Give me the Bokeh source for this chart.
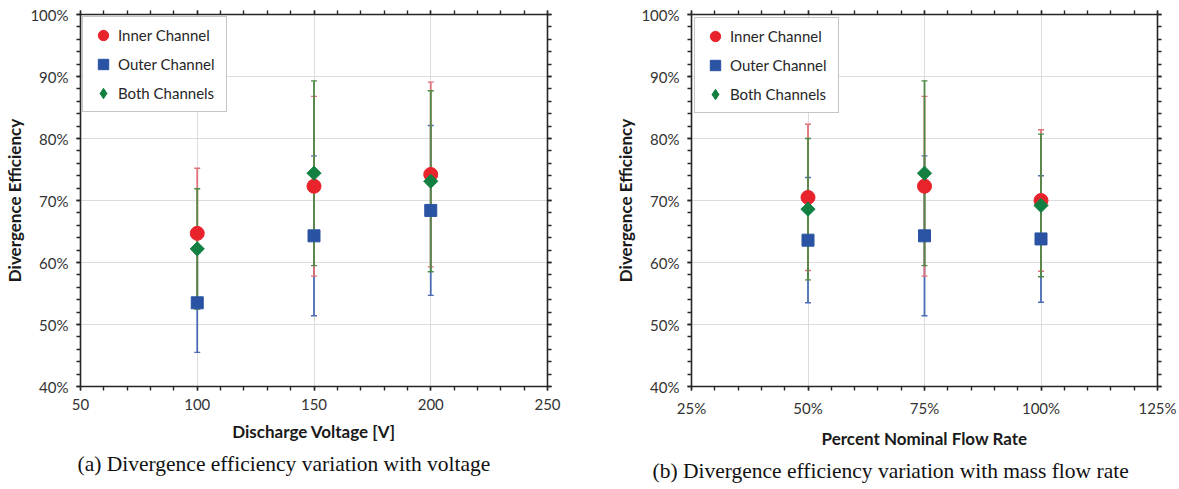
import numpy as np
from bokeh.plotting import figure
from bokeh.layouts import row
from bokeh.models import (ColumnDataSource, Whisker, TeeHead, Range1d, LinearAxis,
                          SingleIntervalTicker, PrintfTickFormatter, Legend, LegendItem, Title)
from bokeh.embed import file_html
from bokeh.resources import INLINE

# Panel (a): discharge voltage sweep [V]
voltage = [100, 150, 200]
inner_v = [64.7, 72.3, 74.2]
inner_v_err = [10.5, 14.5, 14.9]
outer_v = [53.5, 64.3, 68.4]
outer_v_err = [8.0, 12.9, 13.7]
both_v = [62.2, 74.4, 73.1]
both_v_err = [9.7, 14.9, 14.6]

# Panel (b): anode flow rate, percent of nominal
flow = [50, 75, 100]
inner_f = [70.5, 72.3, 70.0]
inner_f_err = [11.8, 14.5, 11.4]
outer_f = [63.6, 64.3, 63.8]
outer_f_err = [10.1, 12.9, 10.2]
both_f = [68.6, 74.4, 69.2]
both_f_err = [11.4, 14.9, 11.5]

series_names = ["Inner Channel", "Outer Channel", "Both Channels"]
y_ticks_pct = (40, 100, 10)

FONT = "Lato"
MARK_COLORS = ["#e8232b", "#2b53a3", "#118040"]
BAR_COLORS = ["#e0707a", "#4b6cb4", "#4f8a45"]
AXIS_COLOR = "#262626"


def style_axis(ax, labels=True):
    ax.axis_line_color = AXIS_COLOR
    ax.axis_line_width = 1.6
    ax.major_tick_line_color = AXIS_COLOR
    ax.minor_tick_line_color = AXIS_COLOR
    ax.major_tick_line_width = 1.4
    ax.minor_tick_line_width = 1.4
    ax.major_tick_in = 0
    ax.major_tick_out = 4
    ax.minor_tick_in = 0
    ax.minor_tick_out = 4
    if labels:
        ax.major_label_text_font = FONT
        ax.major_label_text_font_size = "15px"
        ax.major_label_text_color = "#333333"
        ax.axis_label_text_font = FONT
        ax.axis_label_text_font_size = "17px"
        ax.axis_label_text_font_style = "bold"
        ax.axis_label_text_color = "#1a1a1a"
    else:
        # tick marks only on the mirrored frame edges
        ax.major_label_text_font_size = "1px"
        ax.major_label_text_color = None
        ax.major_label_standoff = 0


def make_panel(x, values, errors, x_start, x_end, x_step, x_fmt, xlabel, caption,
               width, border_left, border_right, cap_offset, legend_margin):
    p = figure(width=width, height=489, title=None,
               x_range=Range1d(x_start, x_end), y_range=Range1d(*y_ticks_pct[:2]),
               output_backend="svg", toolbar_location=None,
               min_border_left=border_left, min_border_right=border_right,
               min_border_top=14, min_border_bottom=103)
    p.outline_line_color = None
    p.background_fill_color = "white"
    p.border_fill_color = "white"

    xt = SingleIntervalTicker(interval=x_step, num_minor_ticks=5)
    yt = SingleIntervalTicker(interval=y_ticks_pct[2], num_minor_ticks=5)

    xa = p.xaxis[0]
    xa.ticker = xt
    xa.formatter = PrintfTickFormatter(format=x_fmt)
    xa.axis_label = xlabel
    style_axis(xa)
    xa.major_label_standoff = 8
    xa.axis_label_standoff = 8

    ya = p.yaxis[0]
    ya.ticker = yt
    ya.formatter = PrintfTickFormatter(format="%d%%")
    ya.axis_label = "Divergence Efficiency"
    style_axis(ya)
    ya.major_label_standoff = 8
    ya.axis_label_standoff = 2

    top = LinearAxis(ticker=xt)
    style_axis(top, labels=False)
    p.add_layout(top, "above")
    right = LinearAxis(ticker=yt)
    style_axis(right, labels=False)
    p.add_layout(right, "right")

    p.xgrid.ticker = xt
    p.ygrid.ticker = yt
    p.xgrid.grid_line_color = "#dcdcdc"
    p.ygrid.grid_line_color = "#dcdcdc"
    p.xgrid.grid_line_width = 1
    p.ygrid.grid_line_width = 1

    # error bars: outer first, then inner, then both on top
    for i in [1, 0, 2]:
        lo = [v - e for v, e in zip(values[i], errors[i])]
        hi = [v + e for v, e in zip(values[i], errors[i])]
        src = ColumnDataSource(dict(base=x, lower=lo, upper=hi))
        w = Whisker(source=src, base="base", lower="lower", upper="upper",
                    dimension="height", line_color=BAR_COLORS[i], line_width=1.8,
                    upper_head=TeeHead(size=6, line_color=BAR_COLORS[i], line_width=1.4),
                    lower_head=TeeHead(size=6, line_color=BAR_COLORS[i], line_width=1.4))
        p.add_layout(w)

    r_in = p.scatter(x, values[0], marker="circle", size=14,
                     fill_color=MARK_COLORS[0], line_color=MARK_COLORS[0])
    r_out = p.scatter(x, values[1], marker="square", size=12,
                      fill_color=MARK_COLORS[1], line_color=MARK_COLORS[1])
    r_both = p.scatter(x, values[2], marker="square", size=10, angle=np.pi / 4,
                       fill_color=MARK_COLORS[2], line_color=MARK_COLORS[2])
    # legend swatch for the diamonds (legend swatches ignore marker angle),
    # zero-sized so that it adds nothing to the plot area itself
    r_both_key = p.scatter(x, values[2], marker="diamond", size=0,
                           fill_color=MARK_COLORS[2], line_color=MARK_COLORS[2])

    legend = Legend(items=[LegendItem(label=n, renderers=[r])
                           for n, r in zip(series_names, [r_in, r_out, r_both_key])],
                    location="top_left", margin=legend_margin, padding=5, spacing=3,
                    glyph_width=30, glyph_height=26, label_standoff=0, label_width=103,
                    label_height=20,
                    label_text_font=FONT, label_text_font_size="15px",
                    label_text_color="#262626",
                    border_line_color="#8c8c8c", border_line_width=1.2,
                    background_fill_color="white", background_fill_alpha=1.0)
    p.add_layout(legend)

    cap = Title(text=caption, align="left", offset=cap_offset,
                text_font="Liberation Serif", text_font_style="normal",
                text_font_size="21.5px", text_color="#111111", standoff=11)
    p.add_layout(cap, "below")
    return p


pa = make_panel(voltage, [inner_v, outer_v, both_v], [inner_v_err, outer_v_err, both_v_err],
                50, 250, 50, "%d", "Discharge Voltage [V]",
                "(a)  Divergence efficiency variation with voltage",
                589, 80, 42, -3, 2)
pb = make_panel(flow, [inner_f, outer_f, both_f], [inner_f_err, outer_f_err, both_f_err],
                25, 125, 25, "%d%%", "Percent Nominal Flow Rate",
                "(b)  Divergence efficiency variation with mass flow rate",
                590, 102, 22, -39, 3)

layout = row(pa, pb)
open("out.html", "w").write(file_html(layout, INLINE))
